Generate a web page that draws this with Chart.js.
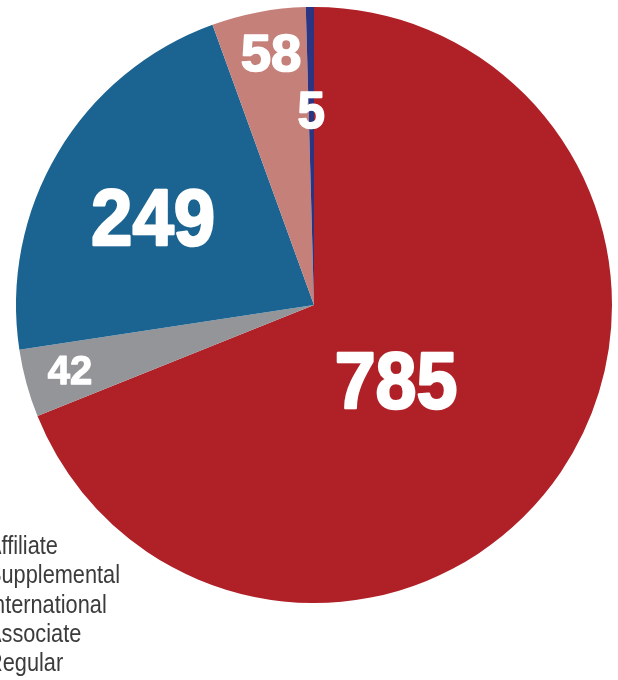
<!DOCTYPE html>
<html>
<head>
  <meta charset="UTF-8" />
  <title>Membership</title>
  <style>
    html, body { margin: 0; padding: 0; background: #fff; }
    #wrap { width: 618px; height: 680px; }
  </style>
</head>
<body>
  <div id="wrap"><canvas id="pieChart" width="618" height="680"></canvas></div>
  <script src="https://cdn.jsdelivr.net/npm/chart.js"></script>
  <script>
    // slices, clockwise from 12 o'clock
    const labels = ['Regular', 'Associate', 'International', 'Supplemental', 'Affiliate'];
    const counts = [785, 42, 249, 58, 5];
    const colors = ['#b02027', '#949598', '#1b6492', '#c5807a', '#2b3581'];

    // where each number sits: fraction of radius, angle shift from slice middle (deg),
    // font size and horizontal squeeze
    const labelSpots = [
      { r: 0.371, shift: 8, size: 80, sx: 0.92 },
      { r: 0.847, shift: 0.5, size: 40, sx: 1.0 },
      { r: 0.617, shift: -1.8, size: 80, sx: 0.93 },
      { r: 0.861, shift: 1.1, size: 52, sx: 1.05 },
      { r: 0.658, shift: 0, size: 52, sx: 0.95 }
    ];

    const FONT = '"Liberation Sans", Arial, "DejaVu Sans", sans-serif';

    const sliceNumbers = {
      id: 'sliceNumbers',
      afterDatasetsDraw(chart) {
        const ctx = chart.ctx;
        const meta = chart.getDatasetMeta(0);
        meta.data.forEach((arc, i) => {
          const p = arc.getProps(['x', 'y', 'startAngle', 'endAngle', 'outerRadius'], true);
          const spot = labelSpots[i];
          const a = (p.startAngle + p.endAngle) / 2 + spot.shift * Math.PI / 180;
          const x = p.x + Math.cos(a) * p.outerRadius * spot.r;
          const y = p.y + Math.sin(a) * p.outerRadius * spot.r;
          ctx.save();
          ctx.translate(x, y + spot.size * 0.358);
          ctx.scale(spot.sx, 1);
          ctx.font = 'bold ' + spot.size + 'px ' + FONT;
          ctx.textAlign = 'center';
          ctx.textBaseline = 'alphabetic';
          ctx.fillStyle = '#ffffff';
          ctx.strokeStyle = '#ffffff';
          ctx.lineWidth = spot.size / 32;
          ctx.lineJoin = 'round';
          ctx.fillText(String(counts[i]), 0, 0);
          ctx.strokeText(String(counts[i]), 0, 0);
          ctx.restore();
        });
      }
    };

    // legend text only, bottom-left, last slice first
    const sideLegend = {
      id: 'sideLegend',
      afterDraw(chart) {
        const ctx = chart.ctx;
        const names = labels.slice().reverse();
        names.forEach((name, i) => {
          ctx.save();
          ctx.translate(-13, 554 + i * 29.3);
          ctx.scale(0.87, 1);
          ctx.fillStyle = '#3b3b3b';
          ctx.font = '25px ' + FONT;
          ctx.textAlign = 'left';
          ctx.textBaseline = 'alphabetic';
          ctx.fillText(name, 0, 0);
          ctx.restore();
        });
      }
    };

    new Chart(document.getElementById('pieChart'), {
      type: 'pie',
      data: {
        labels: labels,
        datasets: [{
          data: counts,
          backgroundColor: colors,
          borderWidth: 0
        }]
      },
      options: {
        responsive: false,
        animation: false,
        layout: { padding: { left: 16, right: 6, top: 7, bottom: 77 } },
        plugins: {
          legend: { display: false },
          tooltip: { enabled: false }
        }
      },
      plugins: [sliceNumbers, sideLegend]
    });
  </script>
</body>
</html>
